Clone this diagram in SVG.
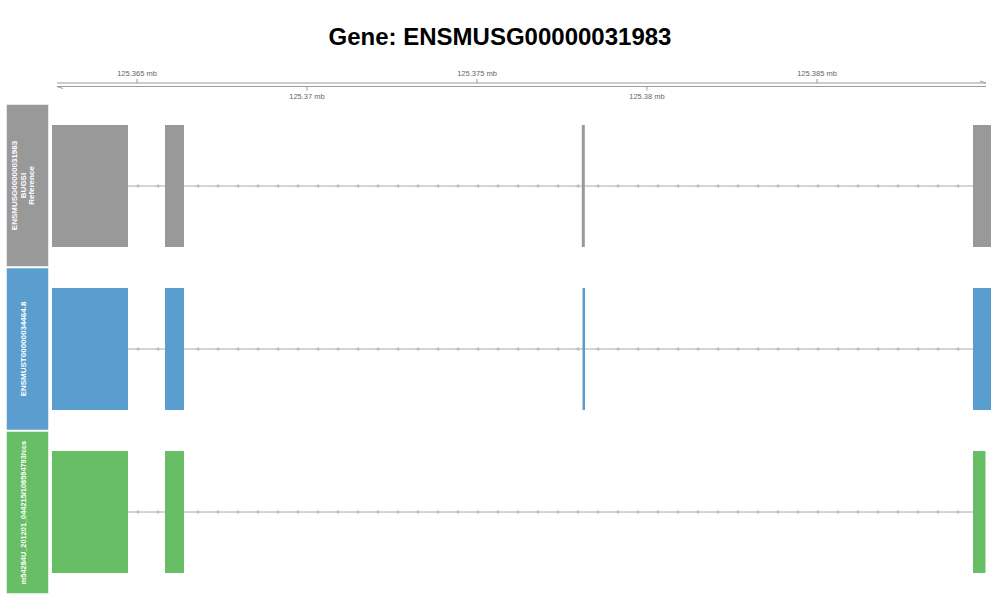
<svg xmlns="http://www.w3.org/2000/svg" xmlns:xlink="http://www.w3.org/1999/xlink" width="1000" height="600" viewBox="0 0 1000 600">
<style>
.title{font-family:"Liberation Sans",Arial,sans-serif;font-weight:bold;font-size:24px;fill:#000;text-anchor:middle}
.ax{font-family:"Liberation Sans",Arial,sans-serif;font-size:7.5px;fill:#666;text-anchor:middle}
.axl{stroke:#9a9a9a;stroke-width:1;fill:none}
.lab{font-family:"Liberation Sans",Arial,sans-serif;font-weight:bold;font-size:8px;fill:#fff;text-anchor:middle}
.intron{stroke:#aaaaaa;stroke-width:1}
.arr{fill:#bdbdbd}
.g{fill:#999999}
.b{fill:#5a9ecf}
.gr{fill:#67be64}
.panel{stroke:#ffffff;stroke-opacity:0.5;stroke-width:1}
</style>
<defs>
<path id="a" class="arr" d="M-2.2,0 L1.8,-2 L1.8,2 Z"/>
<g id="arrows">
<use xlink:href="#a" x="137.3"/><use xlink:href="#a" x="157.3"/><use xlink:href="#a" x="197.3"/><use xlink:href="#a" x="217.3"/><use xlink:href="#a" x="237.3"/><use xlink:href="#a" x="257.3"/><use xlink:href="#a" x="277.3"/><use xlink:href="#a" x="297.3"/><use xlink:href="#a" x="317.3"/><use xlink:href="#a" x="337.3"/><use xlink:href="#a" x="357.3"/><use xlink:href="#a" x="377.3"/><use xlink:href="#a" x="397.3"/><use xlink:href="#a" x="417.3"/><use xlink:href="#a" x="437.3"/><use xlink:href="#a" x="457.3"/><use xlink:href="#a" x="477.3"/><use xlink:href="#a" x="497.3"/><use xlink:href="#a" x="517.3"/><use xlink:href="#a" x="537.3"/><use xlink:href="#a" x="557.3"/><use xlink:href="#a" x="577.3"/><use xlink:href="#a" x="597.3"/><use xlink:href="#a" x="617.3"/><use xlink:href="#a" x="637.3"/><use xlink:href="#a" x="657.3"/><use xlink:href="#a" x="677.3"/><use xlink:href="#a" x="697.3"/><use xlink:href="#a" x="717.3"/><use xlink:href="#a" x="737.3"/><use xlink:href="#a" x="757.3"/><use xlink:href="#a" x="777.3"/><use xlink:href="#a" x="797.3"/><use xlink:href="#a" x="817.3"/><use xlink:href="#a" x="837.3"/><use xlink:href="#a" x="857.3"/><use xlink:href="#a" x="877.3"/><use xlink:href="#a" x="897.3"/><use xlink:href="#a" x="917.3"/><use xlink:href="#a" x="937.3"/><use xlink:href="#a" x="957.3"/>
</g>
</defs>
<rect width="1000" height="600" fill="#ffffff"/>
<text class="title" x="500" y="45">Gene: ENSMUSG00000031983</text>

<g id="axis">
<line class="axl" x1="57" y1="83" x2="986" y2="83"/>
<line class="axl" x1="57" y1="86.5" x2="986" y2="86.5"/>
<line class="axl" x1="986" y1="83" x2="980" y2="81"/>
<line class="axl" x1="57" y1="86.5" x2="63" y2="88.5"/>
<line class="axl" x1="137" y1="79" x2="137" y2="83"/>
<line class="axl" x1="477" y1="79" x2="477" y2="83"/>
<line class="axl" x1="817" y1="79" x2="817" y2="83"/>
<line class="axl" x1="307" y1="86.5" x2="307" y2="90.5"/>
<line class="axl" x1="647" y1="86.5" x2="647" y2="90.5"/>
<text class="ax" x="137" y="76">125.365 mb</text>
<text class="ax" x="477" y="76">125.375 mb</text>
<text class="ax" x="817" y="76">125.385 mb</text>
<text class="ax" x="307" y="99">125.37 mb</text>
<text class="ax" x="647" y="99">125.38 mb</text>
</g>

<g id="panel-reference">
<rect class="panel g" x="6.5" y="104.5" width="42" height="162"/>
<text class="lab" transform="translate(17,185.5) rotate(-90)">ENSMUSG00000031983</text>
<text class="lab" transform="translate(25.5,185.5) rotate(-90)">BUGSI</text>
<text class="lab" transform="translate(34,185.5) rotate(-90)">Reference</text>
</g>
<g id="panel-transcript">
<rect class="panel b" x="6.5" y="268" width="42" height="162"/>
<text class="lab" transform="translate(26,349) rotate(-90)">ENSMUST00000034464.8</text>
</g>
<g id="panel-read">
<rect class="panel gr" x="6.5" y="431.5" width="42" height="162"/>
<text class="lab" font-size="7.4" transform="translate(26,512.5) rotate(-90)" style="font-size:7.4px">m54284U_201201_044215/108594793/ccs</text>
</g>

<g id="connectors">
<line class="intron" x1="128" y1="186" x2="973" y2="186"/>
<line class="intron" x1="128" y1="349" x2="973" y2="349"/>
<line class="intron" x1="128" y1="512" x2="973" y2="512"/>
<use xlink:href="#arrows" y="186"/>
<use xlink:href="#arrows" y="349"/>
<use xlink:href="#arrows" y="512"/>
</g>

<g id="track-reference">
<rect class="g" x="52" y="125" width="76" height="122"/>
<rect class="g" x="165" y="125" width="19" height="122"/>
<rect class="g" x="581.8" y="125" width="3" height="122"/>
<rect class="g" x="973" y="125" width="18" height="122"/>
</g>
<g id="track-transcript">
<rect class="b" x="52" y="288" width="76" height="122"/>
<rect class="b" x="165" y="288" width="19" height="122"/>
<rect class="b" x="582.5" y="288" width="2.5" height="122"/>
<rect class="b" x="973" y="288" width="18" height="122"/>
</g>
<g id="track-read">
<rect class="gr" x="52" y="451" width="76" height="122"/>
<rect class="gr" x="165" y="451" width="19" height="122"/>
<rect class="gr" x="973" y="451" width="12.5" height="122"/>
</g>
</svg>
